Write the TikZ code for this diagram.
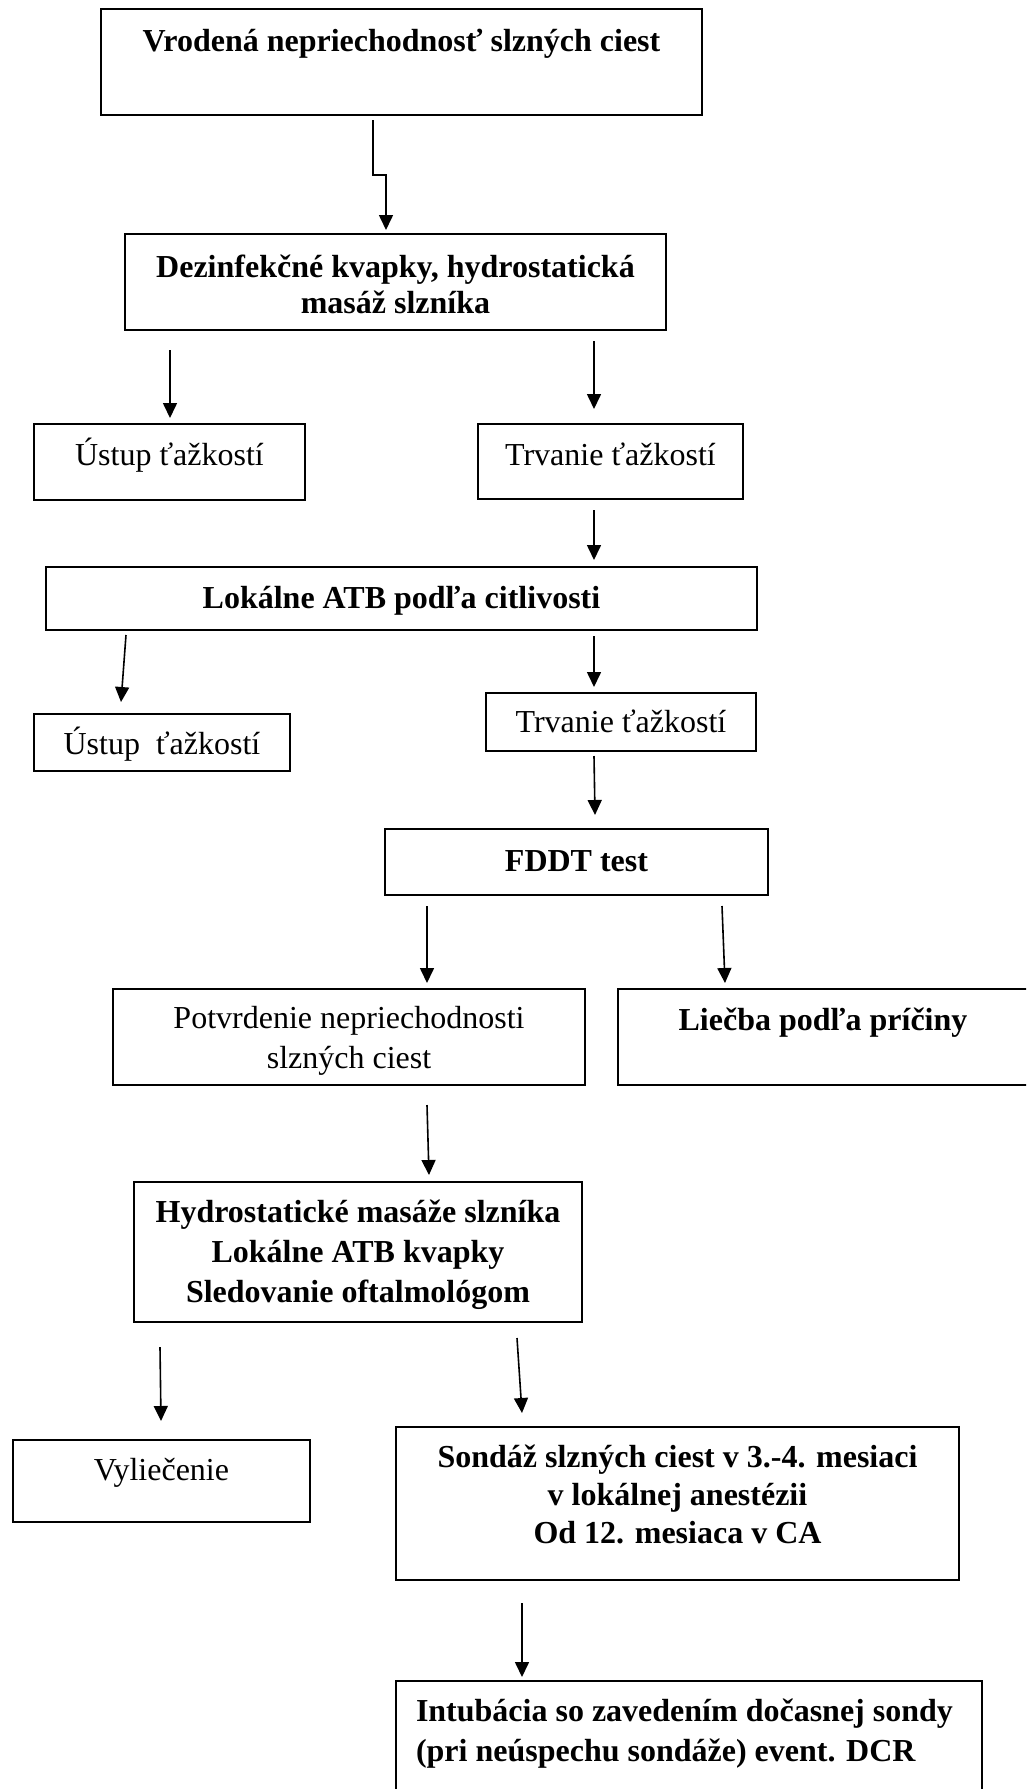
\documentclass[tikz,border=0pt]{standalone}
\usepackage{fontspec}
\setmainfont{Liberation Serif}
\usetikzlibrary{arrows.meta}
\tikzset{
  box/.style={draw=black, line width=2.2pt, inner sep=0pt, outer sep=0pt, fill=none},
  txt/.style={inner sep=0pt, outer sep=0pt, anchor=base, font=\fontsize{32}{38}\selectfont},
  btxt/.style={txt, font=\fontsize{32}{38}\selectfont\bfseries},
  arr/.style={line width=1.6pt, -{Triangle[length=15pt,width=14pt]}}
}
\begin{document}
\begin{tikzpicture}[x=1pt,y=-1pt]
\clip (0,0) rectangle (1026,1789);
\fill[white] (0,0) rectangle (1026,1789);
% boxes
\node[box, minimum width=601pt, minimum height=106pt] (B1) at (401.5,62) {};
\node[box, minimum width=541pt, minimum height=96pt] (B2) at (395.5,282) {};
\node[box, minimum width=271pt, minimum height=76pt] (U1) at (169.5,462) {};
\node[box, minimum width=265pt, minimum height=75pt] (T1) at (610.5,461.5) {};
\node[box, minimum width=711pt, minimum height=63pt] (L) at (401.5,598.5) {};
\node[box, minimum width=256pt, minimum height=57pt] (U2) at (162,742.5) {};
\node[box, minimum width=270pt, minimum height=58pt] (T2) at (621,722) {};
\node[box, minimum width=383pt, minimum height=66pt] (F) at (576.5,862) {};
\node[box, minimum width=472pt, minimum height=96pt] (P) at (349,1037) {};
\node[box, minimum width=422pt, minimum height=96pt] (Lc) at (829,1037) {};
\node[box, minimum width=448pt, minimum height=140pt] (H) at (358,1252) {};
\node[box, minimum width=297pt, minimum height=82pt] (V) at (161.5,1481) {};
\node[box, minimum width=563pt, minimum height=153pt] (S) at (677.5,1503.5) {};
\node[box, minimum width=586pt, minimum height=119pt] (I) at (689,1740.5) {};
% texts
\node[btxt] (tB1) at (401.5,51) {Vrodená nepriechodnosť slzných ciest};
\node[btxt] (tB2a) at (395.5,277) {Dezinfekčné kvapky, hydrostatická};
\node[btxt] (tB2b) at (395.5,313) {masáž slzníka};
\node[txt] (tU1) at (169.5,465) {Ústup ťažkostí};
\node[txt] (tT1) at (610.5,465) {Trvanie ťažkostí};
\node[btxt] (tL) at (401.5,608) {Lokálne ATB podľa citlivosti};
\node[txt] (tU2) at (162,754) {Ústup\ \ ťažkostí};
\node[txt] (tT2) at (621,732) {Trvanie ťažkostí};
\node[btxt] (tF) at (576.5,871) {FDDT test};
\node[txt] (tPa) at (349,1028) {Potvrdenie nepriechodnosti};
\node[txt] (tPb) at (349,1068) {slzných ciest};
\node[btxt] (tLc) at (823,1030) {Liečba podľa príčiny};
\node[btxt] (tHa) at (358,1222) {Hydrostatické masáže slzníka};
\node[btxt] (tHb) at (358,1262) {Lokálne ATB kvapky};
\node[btxt] (tHc) at (358,1302) {Sledovanie oftalmológom};
\node[txt] (tV) at (161.5,1480) {Vyliečenie};
\node[btxt] (tSa) at (677.5,1467) {Sondáž slzných ciest v 3.-4. mesiaci};
\node[btxt] (tSb) at (677.5,1505) {v lokálnej anestézii};
\node[btxt] (tSc) at (677.5,1543) {Od 12. mesiaca v CA};
\node[btxt, anchor=base west] (tIa) at (416,1721) {Intubácia so zavedením dočasnej sondy};
\node[btxt, anchor=base west] (tIb) at (416,1761) {(pri neúspechu sondáže) event. DCR};
% arrows
\draw[arr] ([shift={(-28.5,5)}]B1.south) -- ++(0,55) -- ++(13,0) -- ([shift={(-9.5,-4)}]B2.north);
\draw[arr] ([shift={(-225.5,20)}]B2.south) -- ([shift={(0.5,-6)}]U1.north);
\draw[arr] ([shift={(198.5,11)}]B2.south) -- ([shift={(-16.5,-15)}]T1.north);
\draw[arr] ([shift={(-16.5,11)}]T1.south) -- ([shift={(192.5,-7)}]L.north);
\draw[arr] ([shift={(-275.5,5)}]L.south) -- ([shift={(-41,-12)}]U2.north);
\draw[arr] ([shift={(192.5,6)}]L.south) -- ([shift={(-27,-6)}]T2.north);
\draw[arr] ([shift={(-27,5)}]T2.south) -- ([shift={(18.5,-14)}]F.north);
\draw[arr] ([shift={(-149.5,11)}]F.south) -- ([shift={(78,-6)}]P.north);
\draw[arr] ([shift={(145.5,11)}]F.south) -- ([shift={(-104,-6)}]Lc.north);
\draw[arr] ([shift={(78,20)}]P.south) -- ([shift={(71,-7)}]H.north);
\draw[arr] ([shift={(-198,25)}]H.south) -- ([shift={(-0.5,-19)}]V.north);
\draw[arr] ([shift={(159,16)}]H.south) -- ([shift={(-155.5,-14)}]S.north);
\draw[arr] ([shift={(-155.5,23)}]S.south) -- ([shift={(-167,-4)}]I.north);
\end{tikzpicture}
\end{document}
